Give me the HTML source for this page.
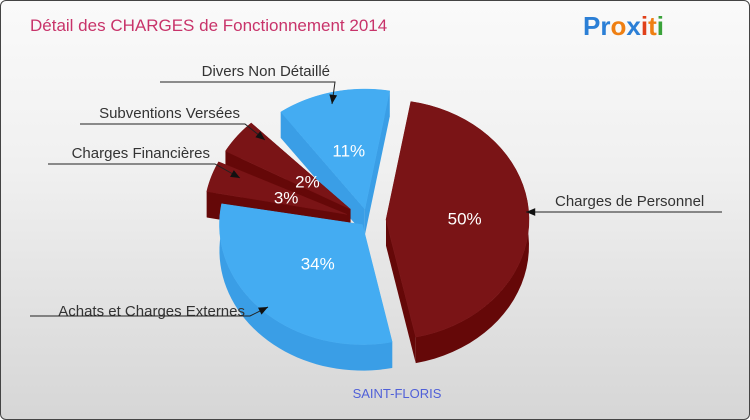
<!DOCTYPE html>
<html><head><meta charset="utf-8"><style>
body{margin:0;width:750px;height:420px;overflow:hidden;font-family:"Liberation Sans",sans-serif}
#c{position:absolute;left:0;top:0;width:748px;height:418px;border:1px solid #444;border-radius:6px;background:linear-gradient(#fafafa,#f0f0f0 40%,#d6d6d6)}
</style></head><body>
<div id="c">
<svg width="750" height="420" style="position:absolute;left:-1px;top:-1px">
<text x="30" y="31" font-size="17" fill="#c8336a">Détail des CHARGES de Fonctionnement 2014</text>
<g font-size="26" font-weight="bold" font-family="'Liberation Sans',sans-serif">
<text x="583" y="35"><tspan fill="#2b7fd6">Pr</tspan><tspan fill="#ef7f12">o</tspan><tspan fill="#2b7fd6">x</tspan><tspan fill="#e0401a">i</tspan><tspan fill="#ef7f12">t</tspan><tspan fill="#3aa23a">i</tspan></text></g>
<g id="pie"></g>
<text x="397" y="398" font-size="13" fill="#5060d8" text-anchor="middle">SAINT-FLORIS</text>
</svg></div>
<script>
const categories=["Charges de Personnel","Achats et Charges Externes","Charges Financières","Subventions Versées","Divers Non Détaillé"];
const values=[50,34,3,2,11];
const colorsTop=["#7a1416","#44acf2","#7a1416","#7a1416","#44acf2"];
const colorsSide=["#650808","#3a9ee6","#650808","#650808","#3a9ee6"];
const labelPos=[[720,206,"end",526,212],[245,316,"end",268,307],[210,158,"end",240,178],[240,118,"end",265,140],[330,76,"end",332,104]];
const labelStart=[[722,212],[30,316],[48,164],[80,124],[160,82]];
const NS="http://www.w3.org/2000/svg";
const g=document.getElementById('pie');
const cx=368,cy=220,rx=143,ry=120,depth=26,explode=[18,8,22,22,14];
const padStart=[0,0,1,3,8];
const total=values.reduce((a,b)=>a+b,0);
// perspective-like projection of cumulative fraction to screen angle (piecewise linear)
const projF=[0,0.5,0.84,0.87,0.89,1],projA=[-80,78,190,206,226,280];
function ang(f){for(let k=1;k<projF.length;k++){if(f<=projF[k]+1e-9){const u=(f-projF[k-1])/(projF[k]-projF[k-1]);return (projA[k-1]+u*(projA[k]-projA[k-1]))*Math.PI/180;}}return projA[projA.length-1]*Math.PI/180;}
function mk(tag,attrs){const e=document.createElementNS(NS,tag);for(const k in attrs)e.setAttribute(k,attrs[k]);return e;}
let cum=0;const slices=[];
values.forEach((v,i)=>{const f0=cum/total;cum+=v;const f1=cum/total;const s=ang(f0)+padStart[i]*Math.PI/180,e=ang(f1),m=(s+e)/2;
 slices.push({i,s,e,m,ox:cx+explode[i]*Math.cos(m),oy:cy+explode[i]*Math.sin(m)*0.8});});
const P=(sl,t,d)=>[sl.ox+rx*Math.cos(t),sl.oy+ry*Math.sin(t)+(d||0)];
slices.slice().sort((p,q)=>Math.sin(p.m)-Math.sin(q.m)).forEach(sl=>{
 const grp=mk('g',{});
 
 
 const side=colorsSide[sl.i];
 [sl.s,sl.e].forEach(t=>{const p=P(sl,t);grp.appendChild(mk('path',{d:`M${sl.ox},${sl.oy}L${p[0]},${p[1]}L${p[0]},${p[1]+depth}L${sl.ox},${sl.oy+depth}Z`,fill:side}));});
 const N=40;let top=[],bot=[];
 for(let k=0;k<=N;k++){const t=sl.s+(sl.e-sl.s)*k/N;top.push(P(sl,t));bot.push(P(sl,t,depth));}
 grp.appendChild(mk('path',{d:'M'+top.map(p=>p.join(',')).join('L')+'L'+bot.reverse().map(p=>p.join(',')).join('L')+'Z',fill:side}));
 grp.appendChild(mk('path',{d:`M${sl.ox},${sl.oy}L`+top.map(p=>p.join(',')).join('L')+'Z',fill:colorsTop[sl.i],stroke:colorsTop[sl.i],'stroke-width':0.5}));
 g.appendChild(grp);
});
const pctR=[0.55,0.45,0.45,0.38,0.5];
const pctDy=[0,0,0,0,0];
slices.forEach(sl=>{const r=pctR[sl.i];
 const t=mk('text',{x:sl.ox+rx*r*Math.cos(sl.m),y:sl.oy+ry*r*Math.sin(sl.m)+6+pctDy[sl.i],'font-size':17,fill:'#fff','text-anchor':'middle'});
 
 
 t.textContent=Math.round(values[sl.i]/total*100)+'%';g.appendChild(t);
 const lp=labelPos[sl.i],ls=labelStart[sl.i];
 const txt=mk('text',{x:sl.i===0?555:lp[0],y:lp[1],'font-size':15,fill:'#333','text-anchor':sl.i===0?'start':'end'});
 
 
 txt.textContent=categories[sl.i];g.appendChild(txt);
 const ln=mk('polyline',{points:`${ls[0]},${ls[1]} ${sl.i===0?550:lp[0]+5},${ls[1]} ${lp[3]},${lp[4]}`,fill:'none',stroke:'#222','stroke-width':1});
 
 
 g.appendChild(ln);
 const ax=lp[3],ay=lp[4],px=sl.i===0?550:lp[0]+5,py=ls[1];const an=Math.atan2(ay-py,ax-px);
 const ar=mk('path',{d:`M${ax},${ay}L${ax-10*Math.cos(an-0.4)},${ay-10*Math.sin(an-0.4)}L${ax-10*Math.cos(an+0.4)},${ay-10*Math.sin(an+0.4)}Z`,fill:'#111'});
 
 
 g.appendChild(ar);
});
</script>
</body></html>
